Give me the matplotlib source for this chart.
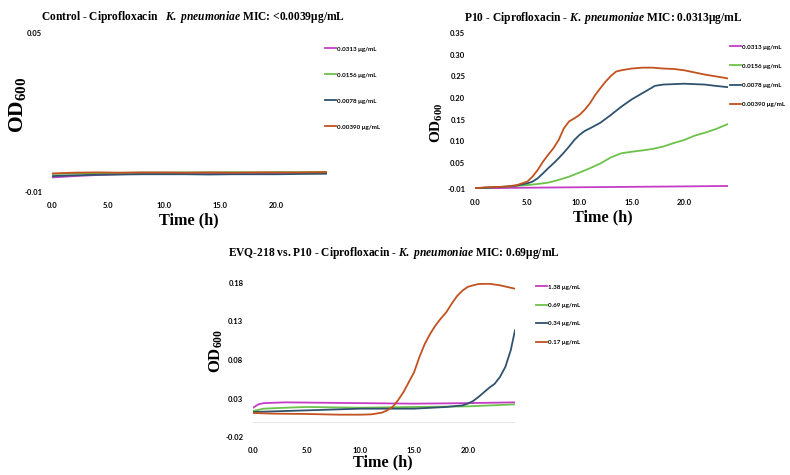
import matplotlib
matplotlib.use("Agg")
import matplotlib.pyplot as plt
from matplotlib.lines import Line2D

plt.rcParams['mathtext.fontset'] = 'custom'
plt.rcParams['mathtext.rm'] = 'Liberation Serif:bold'
plt.rcParams['mathtext.bf'] = 'Liberation Serif:bold'
plt.rcParams['mathtext.it'] = 'Liberation Serif:italic:bold'

# ---------------- data ----------------
colors = ['#C53DC6', '#6DC24B', '#2F536E', '#C2521F']

# Panel 1: Control
p1_labels = ['0.0313 μg/mL', '0.0156 μg/mL', '0.0078 μg/mL', '0.00390 μg/mL']
p1_time = [0, 2, 4, 6, 8, 10, 12, 14, 16, 18, 20, 22, 24.5]
p1_pink = [-0.0045, -0.0040, -0.0036, -0.0033, -0.0031, -0.0030, -0.0030, -0.0029, -0.0029, -0.0029, -0.0028, -0.0028, -0.0028]
p1_green = [-0.0032, -0.0030, -0.0029, -0.0028, -0.0027, -0.0027, -0.0026, -0.0026, -0.0025, -0.0026, -0.0025, -0.0025, -0.0024]
p1_blue = [-0.0040, -0.0037, -0.0035, -0.0034, -0.0033, -0.0033, -0.0033, -0.0034, -0.0033, -0.0033, -0.0033, -0.0032, -0.0031]
p1_orange = [-0.0030, -0.0027, -0.0026, -0.0027, -0.0026, -0.0026, -0.0027, -0.0026, -0.0027, -0.0026, -0.0026, -0.0026, -0.0025]
p1_yticks = [-0.01, 0.05]
p1_xticks = [0, 5, 10, 15, 20]

# Panel 2: P10
p2_labels = ['0.0313 μg/mL', '0.0156 μg/mL', '0.0078 μg/mL', '0.00390 μg/mL']
p2_time = [0, 1, 3, 4, 5, 5.5, 6, 6.5, 7, 7.5, 8, 8.5, 9, 9.5, 10, 10.5, 11, 11.5, 12,
           12.5, 13, 13.5, 14, 15, 16, 17, 18, 19, 20, 21, 22, 23, 24, 24.2]
p2_orange = [-0.0085, -0.006, -0.0045, -0.001, 0.007, 0.0185, 0.034, 0.053, 0.069, 0.084,
             0.103, 0.130, 0.146, 0.153, 0.161, 0.173, 0.188, 0.207, 0.223, 0.238, 0.251,
             0.261, 0.264, 0.268, 0.270, 0.270, 0.268, 0.267, 0.264, 0.259, 0.254, 0.250,
             0.246, 0.245]
p2_blue_t = [0, 3, 4, 5, 5.5, 6, 6.5, 7, 7.5, 8, 8.5, 9, 9.5, 10, 10.5, 11, 12, 13, 14,
             15, 16, 17, 17.2, 18, 19, 20, 21, 22, 23, 24.2]
p2_blue = [-0.0085, -0.0045, -0.002, 0.003, 0.007, 0.0147, 0.026, 0.038, 0.049, 0.061,
           0.074, 0.088, 0.103, 0.115, 0.124, 0.130, 0.143, 0.161, 0.180, 0.197, 0.211,
           0.225, 0.228, 0.231, 0.232, 0.233, 0.232, 0.231, 0.228, 0.225]
p2_green_t = [0, 3, 5, 6, 7, 8, 9, 10, 11, 12, 13, 14, 15, 16, 17, 18, 19, 20, 21, 22, 23, 24.2]
p2_green = [-0.0085, -0.0045, -0.001, 0.0016, 0.0047, 0.011, 0.0185, 0.028, 0.038, 0.049,
            0.063, 0.0725, 0.076, 0.079, 0.0825, 0.088, 0.096, 0.103, 0.113, 0.120, 0.128, 0.140]
p2_pink_t = [0, 5, 10, 15, 20, 24.2]
p2_pink = [-0.0085, -0.0070, -0.0060, -0.0050, -0.0040, -0.0030]
p2_yticks = [-0.01, 0.05, 0.10, 0.15, 0.20, 0.25, 0.30, 0.35]
p2_xticks = [0, 5, 10, 15, 20]

# Panel 3: EVQ-218 vs. P10
p3_labels = ['1.38 μg/mL', '0.69 μg/mL', '0.34 μg/mL', '0.17 μg/mL']
p3_orange_t = [0, 2, 5, 8, 10, 11, 12, 12.5, 13, 13.5, 14, 14.5, 15, 15.5, 16, 16.5, 17,
               17.5, 18, 18.5, 19, 19.5, 20, 20.5, 21, 22, 23, 24.4]
p3_orange = [0.0112, 0.0103, 0.0099, 0.009, 0.009, 0.0094, 0.0116, 0.0146, 0.019, 0.0276,
             0.038, 0.051, 0.064, 0.084, 0.101, 0.114, 0.125, 0.134, 0.142, 0.153, 0.163,
             0.170, 0.175, 0.177, 0.1787, 0.179, 0.177, 0.1726]
p3_blue_t = [0, 5, 10, 15, 18, 19.5, 20, 20.5, 21, 21.5, 22, 22.5, 23, 23.5, 24, 24.4]
p3_blue = [0.0125, 0.0146, 0.0168, 0.0168, 0.019, 0.021, 0.0233, 0.0267, 0.032, 0.038,
           0.044, 0.049, 0.058, 0.071, 0.0925, 0.1185]
p3_green_t = [0, 1, 3, 5, 10, 15, 20, 24.4]
p3_green = [0.0138, 0.0168, 0.018, 0.019, 0.018, 0.019, 0.0198, 0.0224]
p3_pink_t = [0, 0.5, 1, 3, 10, 15, 20, 24.4]
p3_pink = [0.018, 0.0224, 0.024, 0.025, 0.024, 0.0233, 0.024, 0.025]
p3_yticks = [-0.02, 0.03, 0.08, 0.13, 0.18]
p3_xticks = [0, 5, 10, 15, 20]

# ---------------- figure ----------------
W, H = 790, 475
fig = plt.figure(figsize=(7.9, 4.75), dpi=100)


def fx(px):
    return px / W


def fy(py):
    return 1 - py / H


def add_axes(l, t, r, b):
    return fig.add_axes([fx(l), fy(b), fx(r) - fx(l), fy(t) - fy(b)])


tick_font = dict(family='Lato', weight='bold', size=5.5)


def style(ax, xticks, yticks, ydec, xlim, ylim):
    ax.set_xlim(*xlim)
    ax.set_ylim(*ylim)
    for s in ax.spines.values():
        s.set_visible(False)
    ax.set_xticks(xticks)
    ax.set_xticklabels([f'{v:.1f}' for v in xticks], fontdict=tick_font)
    ax.set_yticks(yticks)
    ax.set_yticklabels([f'{v:.{ydec}f}' for v in yticks], fontdict=tick_font)
    ax.tick_params(length=0, pad=7)
    ax.patch.set_alpha(0)


def legend(ax, labels, x, y, spacing):
    handles = [Line2D([], [], color=c, lw=1.3) for c in colors]
    ax.legend(handles, labels, loc='upper left', bbox_to_anchor=(fx(x), fy(y)),
              bbox_transform=fig.transFigure, frameon=False, borderpad=0,
              handlelength=1.8, handletextpad=0.15, labelspacing=spacing,
              prop=dict(family='Lato', weight='bold', size=4.5))


title_kw = dict(family='Liberation Serif', weight='bold', size=8.3, ha='center', va='center')
xlabel_kw = dict(family='Liberation Serif', weight='bold', size=11.7, ha='center', va='center')
ylabel_kw = dict(family='Liberation Serif', ha='center', va='center', rotation=90)
lw = 1.3

# Panel 1
ax1 = add_axes(52, 33, 327, 192)
ax1.plot(p1_time, p1_pink, color=colors[0], lw=lw)
ax1.plot(p1_time, p1_green, color=colors[1], lw=lw)
ax1.plot(p1_time, p1_blue, color=colors[2], lw=lw)
ax1.plot(p1_time, p1_orange, color=colors[3], lw=lw)
style(ax1, p1_xticks, p1_yticks, 2, (0, 24.5), (-0.01, 0.05))
legend(ax1, p1_labels, 322, 43, 3.3)
fig.text(fx(193), fy(17),
         r'Control - Ciprofloxacin   $\mathit{K.\ pneumoniae}$ MIC: <0.0039μg/mL', **title_kw)
fig.text(fx(189), fy(220), 'Time (h)', **xlabel_kw)
fig.text(fx(17), fy(105), r'$\mathrm{OD}_{\mathrm{600}}$', size=15.5, **ylabel_kw)

# Panel 2
ax2 = add_axes(475, 33, 728, 189)
ax2.plot(p2_pink_t, p2_pink, color=colors[0], lw=lw)
ax2.plot(p2_green_t, p2_green, color=colors[1], lw=lw)
ax2.plot(p2_blue_t, p2_blue, color=colors[2], lw=lw)
ax2.plot(p2_time, p2_orange, color=colors[3], lw=lw)
style(ax2, p2_xticks, p2_yticks, 2, (0, 24.2), (-0.01, 0.35))
legend(ax2, p2_labels, 727, 41, 2.2)
fig.text(fx(603), fy(18),
         r'P10 - Ciprofloxacin - $\mathit{K.\ pneumoniae}$ MIC: 0.0313μg/mL', **title_kw)
fig.text(fx(603), fy(217), 'Time (h)', **xlabel_kw)
fig.text(fx(437), fy(123), r'$\mathrm{OD}_{\mathrm{600}}$', size=11, **ylabel_kw)

# Panel 3
ax3 = add_axes(253, 283, 515, 437)
ax3.axhline(0, color='#E6E6E6', lw=0.8, zorder=0)
ax3.plot(p3_pink_t, p3_pink, color=colors[0], lw=lw)
ax3.plot(p3_green_t, p3_green, color=colors[1], lw=lw)
ax3.plot(p3_blue_t, p3_blue, color=colors[2], lw=lw)
ax3.plot(p3_orange_t, p3_orange, color=colors[3], lw=lw)
style(ax3, p3_xticks, p3_yticks, 2, (0, 24.4), (-0.02, 0.18))
legend(ax3, p3_labels, 533, 281, 2.1)
fig.text(fx(394), fy(253),
         r'EVQ-218 vs. P10 - Ciprofloxacin - $\mathit{K.\ pneumoniae}$ MIC: 0.69μg/mL', **title_kw)
fig.text(fx(383), fy(462), 'Time (h)', **xlabel_kw)
fig.text(fx(216), fy(351), r'$\mathrm{OD}_{\mathrm{600}}$', size=12, **ylabel_kw)

fig.savefig('out.png', dpi=100, facecolor='white')
